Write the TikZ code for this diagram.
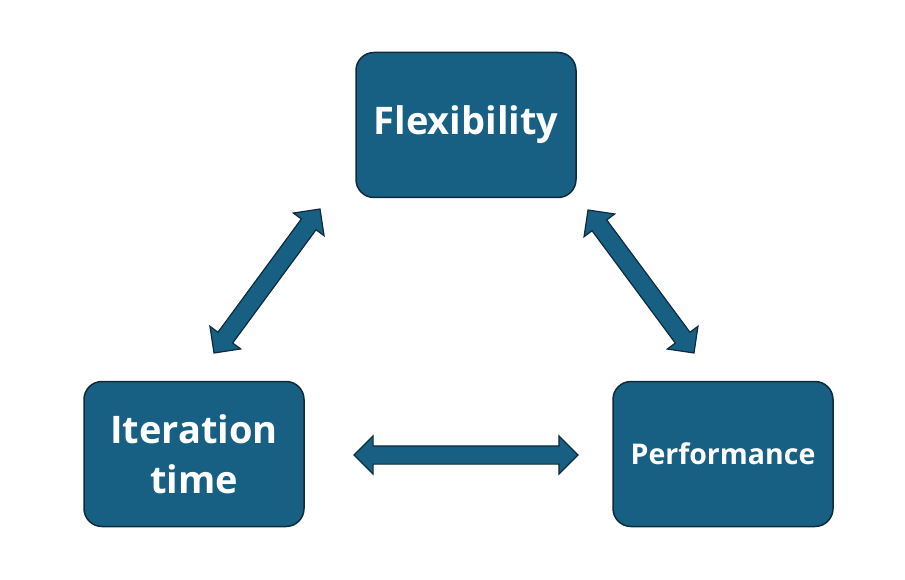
\documentclass[tikz,border=0pt]{standalone}
\usepackage{fontspec}
\setsansfont{Open Sans}
\usepackage{tikz}
\usetikzlibrary{calc}
\usetikzlibrary{shapes.arrows}
\definecolor{boxFill}{HTML}{176083}
\definecolor{boxLine}{HTML}{0E2B3A}
\tikzset{
  topicBox/.style={draw=boxLine, line width=1.5pt, fill=boxFill, rounded corners=18pt,
    minimum width=220pt, minimum height=145pt, text=white, align=center,
    font=\sffamily\bfseries\fontsize{38}{50}\selectfont},
  fatArrow/.style={double arrow, draw=boxLine, line width=1.2pt, fill=boxFill,
    inner xsep=0pt, inner ysep=8.5pt, double arrow head extend=10pt}
}
\newcommand{\linkArrow}[2]{%
  \path let \p1=($(#2)-(#1)$), \n1={atan2(\y1,\x1)}, \n2={veclen(\x1,\y1)} in
    node[fatArrow, minimum height=\n2, rotate=\n1] at ($(#1)!0.5!(#2)$) {};}

\begin{document}
\begin{tikzpicture}[x=1pt,y=-1pt]
        \useasboundingbox (0,0) rectangle (905,580);
        \node[topicBox] (flex) at (466,125){Flexibility};
        \node[topicBox] (iter) at (194,454){Iteration\\time};
        \node[topicBox, font=\sffamily\bfseries\fontsize{28.5}{32}\selectfont] (perf) at (723,454){Performance};
        \coordinate (leftLow) at (214,353);
        \coordinate (leftHigh) at (320,209);
        \coordinate (rightHigh) at (588,210);
        \coordinate (rightLow) at (694,353);
        \coordinate (bottomLeft) at (354,455);
        \coordinate (bottomRight) at (578,455);
        \linkArrow{leftLow}{leftHigh}
        \linkArrow{rightHigh}{rightLow}
        \linkArrow{bottomLeft}{bottomRight}
      \end{tikzpicture}
\end{document}
